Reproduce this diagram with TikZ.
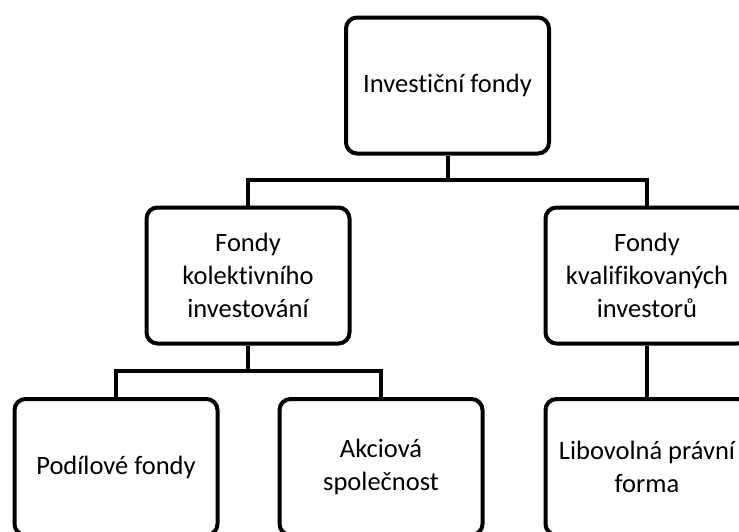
\documentclass[tikz,border=0pt]{standalone}
\usepackage{fontspec}
\setmainfont[Ligatures=CommonOff]{Carlito}
\usepackage{tikz}

\tikzset{
	fondbox/.style={draw, line width=4pt, rounded corners=11pt, align=center,
		minimum width=203pt, minimum height=136pt, inner sep=0pt,
		font=\fontsize{26.5}{33}\selectfont},
	link/.style={line width=4pt}
}

\begin{document}
\begin{tikzpicture}[x=1pt, y=-1pt]
		\useasboundingbox (0, 0) rectangle (739, 531);
		% Picture nodes
		%% Root
		\node[fondbox] (IF) at (447.5, 85.5) {Investiční fondy};
		%% Middle level
		\node[fondbox] (FKI) at (248, 275.5) {Fondy\\kolektivního\\investování};
		\node[fondbox] (FKV) at (647, 275.5) {Fondy\\kvalifikovaných\\investorů};
		%% Bottom level
		\node[fondbox] (PF) at (116, 467) {Podílové fondy};
		\node[fondbox] (AS) at (381, 467) {Akciová\\společnost};
		\node[fondbox] (LPF) at (647, 467) {Libovolná právní\\forma};
		%% Junctions
		\coordinate (Ji) at (447.5, 180);
		\coordinate (Jii) at (248, 371);
		% Picture arcs
		%% Root edges
		\draw[link] (IF) to (Ji);
		\draw[link] (FKI.north) |- (Ji) -| (FKV.north);
		%% Left subtree edges
		\draw[link] (FKI) to (Jii);
		\draw[link] (PF.north) |- (Jii) -| (AS.north);
		%% Right subtree edges
		\draw[link] (FKV) to (LPF);
	\end{tikzpicture}
\end{document}
